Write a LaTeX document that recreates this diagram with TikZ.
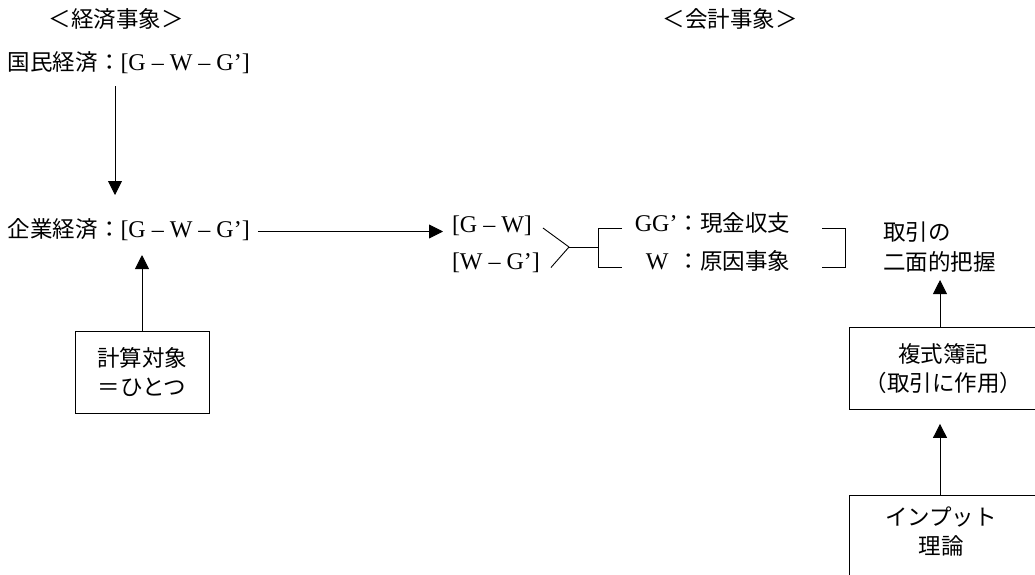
\documentclass[tikz,border=0pt]{standalone}
\usepackage{fontspec}
\setmainfont{Liberation Serif}
\newfontfamily\jp{Noto Sans CJK JP}
\newcommand\latn[1]{{\fontsize{24}{29}\selectfont #1}}
\usetikzlibrary{arrows.meta,calc}
\begin{document}
\begin{tikzpicture}[x=1pt,y=-1pt,
  font=\fontsize{22.5}{29}\selectfont,
  line width=0.9pt,
  txt/.style={inner sep=0pt,outer sep=0pt,text height=17pt,text depth=6pt},
  boxnode/.style={draw,inner sep=0pt,align=center},
  arr/.style={-{Triangle[width=14pt,length=14pt]}}
]
\useasboundingbox (0,0) rectangle (1035,574);
\clip (0,0) rectangle (1035,574);

% headers
\node[txt,anchor=base] (hdrL) at (116,27) {\jp ＜経済事象＞};
\node[txt,anchor=base] (hdrR) at (730,27) {\jp ＜会計事象＞};

% left column
\node[txt,anchor=base west] (kokumin) at (8,70) {{\jp 国民経済：}\latn{[G – W – G’]}};
\node[txt,anchor=base west] (kigyo) at (8,237) {{\jp 企業経済：}\latn{[G – W – G’]}};
\node[boxnode,minimum width=134pt,minimum height=82pt] (keisan) at (142,372) {{\jp 計算対象}\\{\jp ＝ひとつ}};

\coordinate (xa) at (115,0);
\coordinate (xb) at (142,0);
\draw[arr,shorten <=10pt,shorten >=25pt] (kokumin.south -| xa) -- (kigyo.north -| xa);
\draw[arr,shorten >=12pt] (keisan.north) -- (kigyo.south -| xb);

% middle
\node[txt,anchor=base west] (gw) at (452,232) {\latn{[G – W]}};
\node[txt,anchor=base west] (wg) at (452,269) {\latn{[W – G’]}};
\draw[arr,shorten <=8pt,shorten >=9pt] (kigyo.east) -- (gw.west |- kigyo.east);

\coordinate (fork) at (569,247);
\coordinate (br) at (598,247);
\draw ($(gw.east)+(11,1.5)$) -- (fork);
\draw ($(wg.east)+(11,4)$) -- (fork);
\draw (fork) -- (br);
\draw (622,228) -- (598,228) -- (598,267) -- (622,267);

\node[txt,anchor=base east] (gg) at (790,231) {\latn{GG’}{\jp ：現金収支}};
\node[txt,anchor=base east] (wc) at (790,269) {\latn{W}\hspace{9pt}{\jp ：原因事象}};
\draw (822,228) -- (845,228) -- (845,267) -- (822,267);

% right column
\node[txt,anchor=base west] (toriA) at (883,240) {\jp 取引の};
\node[txt,anchor=base west] (toriB) at (883,270) {\jp 二面的把握};

\node[boxnode,anchor=north west,minimum width=188pt,minimum height=82pt] (box1) at (849,327)
  {{\jp 複式簿記}\\{\jp （取引に作用）}};
\node[draw,anchor=north west,minimum width=188pt,minimum height=110pt,inner sep=0pt] (box2) at (849,495) {};
\node[inner sep=0pt,align=center] (inp) at (941,532) {{\jp インプット}\\{\jp 理論}};

\coordinate (xr) at (940,0);
\draw[arr,shorten >=4pt] (box1.north -| xr) -- (toriB.south -| xr);
\draw[arr,shorten >=14pt] (box2.north -| xr) -- (box1.south -| xr);
\end{tikzpicture}
\end{document}
